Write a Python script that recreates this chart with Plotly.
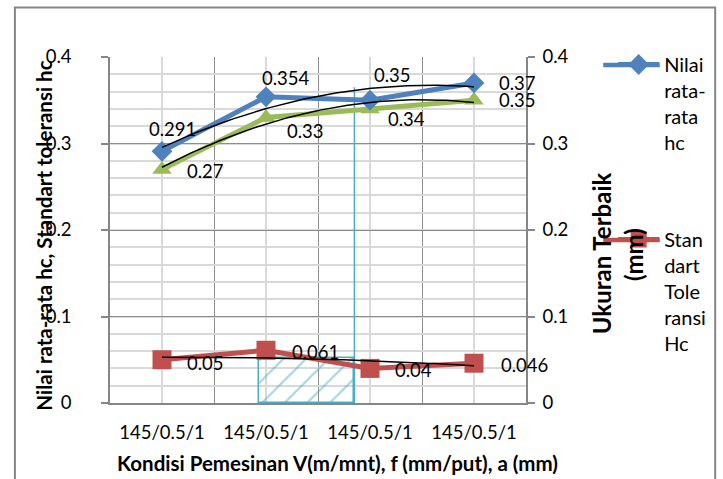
import numpy as np
import plotly.graph_objects as go

# ---------------- data ----------------
categories = ["145/0.5/1", "145/0.5/1", "145/0.5/1", "145/0.5/1"]
x_pos = [1, 2, 3, 4]
nilai_rata_rata_hc = [0.291, 0.354, 0.35, 0.37]
ukuran_terbaik = [0.27, 0.33, 0.34, 0.35]
standart_toleransi_hc = [0.05, 0.061, 0.04, 0.046]
y_tick_vals = [0, 0.1, 0.2, 0.3, 0.4]
y_tick_text = ["0", "0.1", "0.2", "0.3", "0.4"]

# highlighted (hatched) region and marker line
highlight_x = [1.93, 2.85]
highlight_top = 0.052
highlight_line_top = 0.365

# ---------------- style ----------------
BLUE = "#4F81BD"
RED = "#C0504D"
GREEN = "#9BBB59"
CYAN = "#4BACC6"
GRID_MAJOR = "#8C8C8C"
GRID_MINOR = "#D9D9D9"
AXIS = "#868686"
FONT = "Lato"
FS = 18.5

# plot area in pixels (for paper-coordinate placement)
PL, PR, PT, PB = 110, 530, 57, 403
def px(x):
    return (x - PL) / (PR - PL)
def py(y):
    return (PB - y) / (PB - PT)

# label offsets (px) per point: (dx, dy)
blue_off = [(10, 22), (20, 19), (22, 25), (43, 0)]
green_off = [(43, -2), (39, -13), (36, -10), (43, 0)]
red_off = [(43, -3), (49, -2), (43, -2), (50, -2)]

fig = go.Figure()

# hatched highlight box
fig.add_trace(go.Bar(
    x=[(highlight_x[0] + highlight_x[1]) / 2], y=[highlight_top],
    width=[highlight_x[1] - highlight_x[0]],
    marker=dict(color="rgba(255,255,255,0)", line=dict(color=CYAN, width=1.5),
                pattern=dict(shape="/", fgcolor=CYAN, bgcolor="rgba(255,255,255,0)",
                             size=16, solidity=0.14, fillmode="overlay")),
    showlegend=False, hoverinfo="skip"))
fig.add_trace(go.Scatter(
    x=[highlight_x[1], highlight_x[1]], y=[0, highlight_line_top],
    mode="lines", line=dict(color=CYAN, width=1.5),
    showlegend=False, hoverinfo="skip"))

def trend(vals):
    coef = np.polyfit(x_pos, vals, 2)
    xs = np.linspace(x_pos[0], x_pos[-1], 80)
    return xs, np.polyval(coef, xs)

# series
fig.add_trace(go.Scatter(
    x=x_pos, y=ukuran_terbaik, mode="lines+markers", name="Ukuran Terbaik",
    line=dict(color=GREEN, width=5),
    marker=dict(symbol="triangle-up", size=17, color=GREEN),
    showlegend=False))
fig.add_trace(go.Scatter(
    x=x_pos, y=nilai_rata_rata_hc, mode="lines+markers",
    name="Nilai<br>rata-<br>rata<br>hc",
    line=dict(color=BLUE, width=5),
    marker=dict(symbol="diamond", size=16, color=BLUE),
    legend="legend"))
fig.add_trace(go.Scatter(
    x=x_pos, y=standart_toleransi_hc, mode="lines+markers",
    name="Stan<br>dart<br>Tole<br>ransi<br>Hc",
    line=dict(color=RED, width=5),
    marker=dict(symbol="square", size=19, color=RED),
    legend="legend2", yaxis="y2"))

# trendlines
for vals, ax in [(nilai_rata_rata_hc, "y"), (ukuran_terbaik, "y"), (standart_toleransi_hc, "y2")]:
    xs, ys = trend(vals)
    fig.add_trace(go.Scatter(x=xs, y=ys, mode="lines", yaxis=ax,
                             line=dict(color="black", width=1.5),
                             showlegend=False, hoverinfo="skip"))

# data labels
annotations = []
for vals, offs in [(nilai_rata_rata_hc, blue_off), (ukuran_terbaik, green_off),
                   (standart_toleransi_hc, red_off)]:
    for xi, v, (dx, dy) in zip(x_pos, vals, offs):
        annotations.append(dict(x=xi, y=v, xref="x", yref="y", text=f"{v:g}",
                                showarrow=False, xshift=dx, yshift=dy,
                                xanchor="center", yanchor="middle",
                                font=dict(family=FONT, size=FS, color="black")))

# axis titles
title_common = dict(xref="paper", yref="paper", showarrow=False,
                    xanchor="center", yanchor="middle")
annotations.append(dict(x=px(43), y=py(236),
                        text="<b>Nilai rata-rata hc, Standart toleransi hc</b>",
                        textangle=-90, font=dict(family=FONT, size=20.5, color="black"),
                        **title_common))
annotations.append(dict(x=px(340), y=py(463),
                        text="<b>Kondisi Pemesinan V(m/mnt), f (mm/put), a (mm)</b>",
                        font=dict(family=FONT, size=20.5, color="black"),
                        **title_common))
annotations.append(dict(x=px(606), y=py(253),
                        text="<b>Ukuran Terbaik</b>", textangle=-90,
                        font=dict(family=FONT, size=24, color="black"),
                        **title_common))
annotations.append(dict(x=px(638), y=py(254),
                        text="<b>(mm)</b>", textangle=-90,
                        font=dict(family=FONT, size=24, color="black"),
                        **title_common))

legend_common = dict(xanchor="left", yanchor="top", valign="top",
                     bgcolor="rgba(0,0,0,0)", borderwidth=0, itemwidth=41,
                     font=dict(family=FONT, size=20))

fig.update_layout(
    width=723, height=479,
    margin=dict(l=PL, r=723 - PR, t=PT, b=479 - PB),
    paper_bgcolor="white", plot_bgcolor="white",
    font=dict(family=FONT, size=FS, color="black"),
    bargap=0,
    annotations=annotations,
    shapes=[
        dict(type="rect", xref="paper", yref="paper",
             x0=px(14), x1=px(721), y0=py(500), y1=py(7.5),
             line=dict(color=AXIS, width=2), layer="below"),
        # legend line swatches (longer than plotly's default)
        dict(type="line", xref="paper", yref="paper",
             x0=px(608), x1=px(665), y0=py(65), y1=py(65),
             line=dict(color=BLUE, width=4.5), layer="above"),
        dict(type="line", xref="paper", yref="paper",
             x0=px(608), x1=px(665), y0=py(240), y1=py(240),
             line=dict(color=RED, width=4.5), layer="above"),
    ],
    xaxis=dict(range=[0.5, 4.5], tickmode="array", tickvals=x_pos, ticktext=categories,
               showgrid=True, gridcolor=GRID_MINOR, gridwidth=1.5,
               showline=True, linecolor=AXIS, linewidth=1.5, ticks="",
               ticklabelstandoff=12, zeroline=False,
               minor=dict(tickmode="linear", tick0=0.5, dtick=1, showgrid=True,
                          gridcolor=GRID_MAJOR, gridwidth=1.2),
               tickfont=dict(family=FONT, size=FS)),
    yaxis=dict(range=[0, 0.4], tickmode="array", tickvals=y_tick_vals, ticktext=y_tick_text,
               showgrid=True, gridcolor=GRID_MAJOR, gridwidth=1.2,
               showline=True, linecolor=AXIS, linewidth=1.5,
               ticks="outside", ticklen=7, tickcolor=AXIS, tickwidth=1.5,
               ticklabelstandoff=26, zeroline=False,
               minor=dict(dtick=0.02, showgrid=True, gridcolor=GRID_MINOR, gridwidth=1.5),
               tickfont=dict(family=FONT, size=FS)),
    yaxis2=dict(range=[0, 0.4], overlaying="y", side="right",
                tickmode="array", tickvals=y_tick_vals, ticktext=y_tick_text,
                showgrid=False, showline=True, linecolor=AXIS, linewidth=1.5,
                ticks="outside", ticklen=7, tickcolor=AXIS, tickwidth=1.5,
                ticklabelstandoff=4, zeroline=False,
                tickfont=dict(family=FONT, size=FS)),
    legend=dict(x=px(618), y=py(45), **legend_common),
    legend2=dict(x=px(618), y=py(220), **legend_common),
)

fig.write_html("out.html")
